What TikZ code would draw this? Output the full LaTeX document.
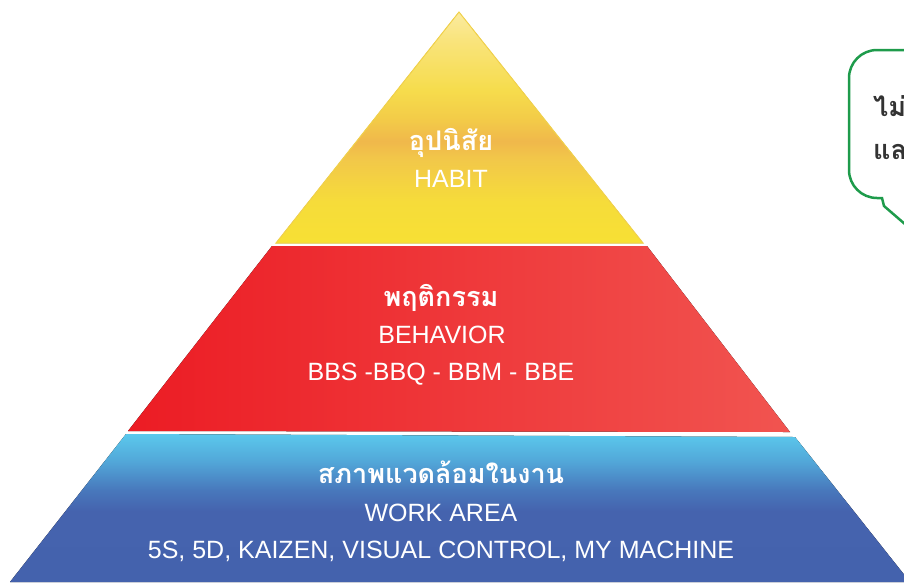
\documentclass[tikz,border=0pt]{standalone}
\usepackage{fontspec}
\setmainfont{Liberation Sans}
\newfontfamily\thaifont[Script=Thai]{Loma}
\definecolor{yb}{HTML}{F7E034}
\definecolor{yc2}{HTML}{F6DC3A}
\definecolor{yc3}{HTML}{F2C849}
\definecolor{yc4}{HTML}{F0B84B}
\definecolor{yc5}{HTML}{F3CC48}
\definecolor{yc6}{HTML}{F6DC4C}
\definecolor{yc7}{HTML}{F9E47C}
\definecolor{ytop}{HTML}{FBEBA0}
\definecolor{yedge}{HTML}{F2D24A}
\definecolor{redL}{HTML}{EC1C24}
\definecolor{redR}{HTML}{F15450}
\definecolor{bb}{HTML}{4462AD}
\definecolor{bc2}{HTML}{4563AE}
\definecolor{bc3}{HTML}{4878BC}
\definecolor{bc4}{HTML}{52A8D9}
\definecolor{btop}{HTML}{5BC8EC}
\definecolor{bubgreen}{HTML}{1E9B4B}
\definecolor{bubtext}{HTML}{333333}
\pgfdeclareverticalshading{yellowsh}{100bp}{color(0bp)=(yb); color(25bp)=(yb); color(34bp)=(yc2); color(43bp)=(yc3); color(47bp)=(yc4); color(52bp)=(yc5); color(58bp)=(yc6); color(69bp)=(yc7); color(75bp)=(ytop); color(100bp)=(ytop)}
\pgfdeclareverticalshading{bluesh}{100bp}{color(0bp)=(bb); color(25bp)=(bb); color(49bp)=(bc2); color(56bp)=(bc3); color(66bp)=(bc4); color(75bp)=(btop); color(100bp)=(btop)}
\tikzset{
  en/.style={text=white, font=\fontsize{25}{29}\selectfont, anchor=base, inner sep=0pt},
  th/.style={text=white, font=\thaifont\bfseries\fontsize{27}{32}\selectfont, anchor=base, inner sep=0pt},
  bubtxt/.style={text=bubtext, font=\thaifont\bfseries\fontsize{27}{32}\selectfont, anchor=base west, inner sep=0pt},
  bubble/.style={draw=bubgreen, line width=2.5pt, fill=white}
}
\begin{document}
\begin{tikzpicture}[x=1pt,y=-1pt]
\useasboundingbox (0,0) rectangle (904,582);
\clip (0,0) rectangle (904,582);
% layers
\fill[shading=yellowsh, draw=yedge, line width=1pt] (459,12) -- (643,243) -- (276,243) -- cycle;
\fill[left color=redL, right color=redR] (272,246) -- (647,246) -- (790,432) -- (128,431) -- cycle;
\fill[shading=bluesh] (126,434) -- (795,437) -- (910,582) -- (10,582) -- cycle;
% speech bubble
\draw[bubble] (1000,50) [rounded corners=28pt] -- (849,50) -- (849,198) [sharp corners] -- (882,198) -- (884,206) -- (935,250) -- (960,198) -- (1000,198);
\node[bubtxt] (b1) at (873,116) {ไม่};
\node[bubtxt] (b2) at (873,159) {แล};
% texts
\node[th] (habitTh) at (451,150) {อุปนิสัย};
\node[en] (habitEn) at (451,187) {HABIT};
\node[th] (behTh) at (441,306) {พฤติกรรม};
\node[en] (behEn) at (442,343) {BEHAVIOR};
\node[en] (behSub) at (441,380) {BBS -BBQ - BBM - BBE};
\node[th] (workTh) at (441,483) {สภาพแวดล้อมในงาน};
\node[en] (workEn) at (441,521) {WORK AREA};
\node[en] (workSub) at (441,558) {5S, 5D, KAIZEN, VISUAL CONTROL, MY MACHINE};
\end{tikzpicture}
\end{document}
